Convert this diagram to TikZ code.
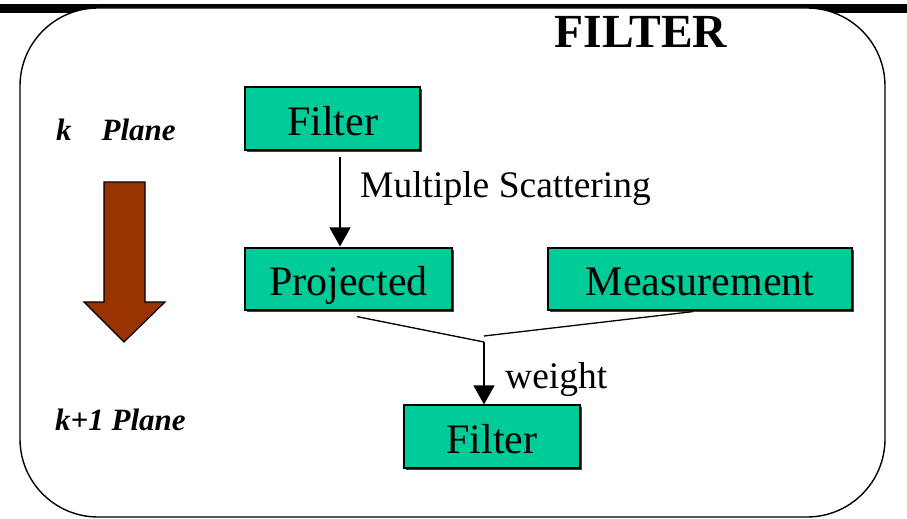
\documentclass[tikz,border=0pt]{standalone}
\usepackage{fontspec}
\setmainfont{Liberation Serif}
\usetikzlibrary{arrows.meta,shadows}
\definecolor{boxgreen}{RGB}{0,204,153}
\definecolor{planebrown}{RGB}{153,51,0}
\tikzset{
  stagebox/.style={draw=black, line width=1.2pt, fill=boxgreen, inner sep=0pt,
    text height=33pt, text depth=0pt, font=\fontsize{42}{46}\selectfont,
    drop shadow={shadow xshift=1.5pt, shadow yshift=-1.5pt, fill=black!75, opacity=1}},
  link/.style={line width=1.3pt},
  flow/.style={line width=1.3pt, -{Triangle[width=21pt,length=19pt]}},
  planelabel/.style={anchor=base west, inner sep=0pt, font=\fontsize{31}{34}\selectfont\bfseries\itshape},
  steplabel/.style={anchor=base west, inner sep=0pt, font=\fontsize{37.5}{42}\selectfont}
}
\begin{document}
\begin{tikzpicture}[x=1pt, y=-1pt]
  \useasboundingbox (0,0) rectangle (907,519);
  % top rule of the slide
  \fill[black] (0,4) rectangle (907,13);
  % rounded frame
  \draw[line width=1.4pt, fill=white, rounded corners=78pt] (20,8) rectangle (885,517);

  % title
  \node[anchor=base, inner sep=0pt, font=\fontsize{47.5}{50}\selectfont\bfseries] (title) at (641,48) {FILTER};

  % plane labels and direction arrow
  \node[planelabel] (kplane) at (56,140) {k\hspace{30pt}Plane};
  \node[planelabel] (k1plane) at (55,430) {k+1 Plane};
  \draw[line width=1.2pt, fill=planebrown]
    (104,182) -- (145,182) -- (145,302) -- (165,302) -- (124,342) -- (84,302) -- (104,302) -- cycle;

  % stages
  \node[stagebox, minimum width=175pt, minimum height=63pt] (ftop) at (332.5,118.5) {Filter};
  \node[stagebox, minimum width=207pt, minimum height=62pt] (proj) at (348.5,279) {Projected};
  \node[stagebox, minimum width=304pt, minimum height=62pt] (meas) at (700,279) {Measurement};
  \node[stagebox, minimum width=176pt, minimum height=63pt] (fbot) at (492,436.5) {Filter};

  % connectors
  \draw[flow] ([xshift=7.5pt,yshift=-6pt]ftop.south) -- ([xshift=-8.5pt,yshift=1pt]proj.north);
  \node[steplabel] (ms) at (360,197) {Multiple Scattering};

  \coordinate (jn) at (484,342);
  \coordinate (jm) at (484,336);
  \draw[link] ([xshift=8.5pt,yshift=-6pt]proj.south) -- (jn);
  \draw[link] ([xshift=-7pt,yshift=-1pt]meas.south) -- (jm);
  \draw[flow] (jn) -- ([xshift=-8pt]fbot.north);
  \node[steplabel] (wt) at (505,388) {weight};
\end{tikzpicture}
\end{document}
